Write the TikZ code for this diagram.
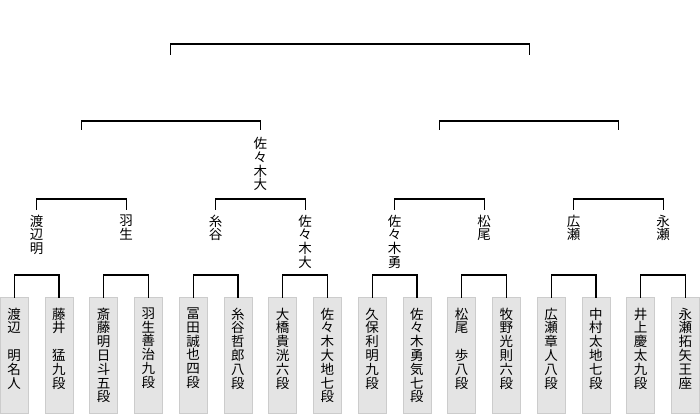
\documentclass[tikz,border=0pt]{standalone}
\usepackage{fontspec}
\newfontfamily\jp{Noto Sans CJK JP}
\begin{document}
\begin{tikzpicture}[x=1pt,y=-1pt,
  conn/.style={line width=1.1pt, line cap=rect},
  leaf/.style={draw=black!20, fill=black!10.5, line width=0.8pt, minimum width=28pt, minimum height=116pt, inner sep=0pt, anchor=north},
  vtext/.style={font=\jp\fontsize{13.5}{13.8}\selectfont, align=center, inner sep=0pt, anchor=north}]
\useasboundingbox (0,0) rectangle (700,415);
\newcommand\leafbox[3]{\node[leaf] (#1) at (#2,297) {};\node[vtext] (#1t) at (#2,307.5) {#3};}
\leafbox{L1}{14.2}{渡\\辺\\\phantom{明}\\明\\名\\人}
\leafbox{L2}{58.95}{藤\\井\\\phantom{明}\\猛\\九\\段}
\leafbox{L3}{103.7}{斎\\藤\\明\\日\\斗\\五\\段}
\leafbox{L4}{148.45}{羽\\生\\善\\治\\九\\段}
\leafbox{L5}{193.2}{冨\\田\\誠\\也\\四\\段}
\leafbox{L6}{237.95}{糸\\谷\\哲\\郎\\八\\段}
\leafbox{L7}{282.7}{大\\橋\\貴\\洸\\六\\段}
\leafbox{L8}{327.45}{佐\\々\\木\\大\\地\\七\\段}
\leafbox{L9}{372.2}{久\\保\\利\\明\\九\\段}
\leafbox{L10}{416.95}{佐\\々\\木\\勇\\気\\七\\段}
\leafbox{L11}{461.7}{松\\尾\\\phantom{明}\\歩\\八\\段}
\leafbox{L12}{506.45}{牧\\野\\光\\則\\六\\段}
\leafbox{L13}{551.2}{広\\瀬\\章\\人\\八\\段}
\leafbox{L14}{595.95}{中\\村\\太\\地\\七\\段}
\leafbox{L15}{640.7}{井\\上\\慶\\太\\九\\段}
\leafbox{L16}{685.45}{永\\瀬\\拓\\矢\\王\\座}
% first-round brackets
\coordinate (p1) at (36.6,275);
\coordinate (p2) at (126.1,275);
\coordinate (p3) at (215.6,275);
\coordinate (p4) at (305.1,275);
\coordinate (p5) at (394.6,275);
\coordinate (p6) at (484.1,275);
\coordinate (p7) at (573.6,275);
\coordinate (p8) at (663.1,275);
\draw[conn] (L1.north) |- (p1) -| (L2.north);
\draw[conn] (L3.north) |- (p2) -| (L4.north);
\draw[conn] (L5.north) |- (p3) -| (L6.north);
\draw[conn] (L7.north) |- (p4) -| (L8.north);
\draw[conn] (L9.north) |- (p5) -| (L10.north);
\draw[conn] (L11.north) |- (p6) -| (L12.north);
\draw[conn] (L13.north) |- (p7) -| (L14.north);
\draw[conn] (L15.north) |- (p8) -| (L16.north);
% second-round winners
\coordinate (q1) at (36.6,209);
\coordinate (q2) at (126.1,209);
\coordinate (q3) at (215.6,209);
\coordinate (q4) at (305.1,209);
\coordinate (q5) at (394.6,209);
\coordinate (q6) at (484.1,209);
\coordinate (q7) at (573.6,209);
\coordinate (q8) at (663.1,209);
\node[vtext] (Q1) at (36.6,214.5) {渡\\辺\\明};
\node[vtext] (Q2) at (126.1,214.5) {羽\\生};
\node[vtext] (Q3) at (215.6,214.5) {糸\\谷};
\node[vtext] (Q4) at (305.1,214.5) {佐\\々\\木\\大};
\node[vtext] (Q5) at (394.6,214.5) {佐\\々\\木\\勇};
\node[vtext] (Q6) at (484.1,214.5) {松\\尾};
\node[vtext] (Q7) at (573.6,214.5) {広\\瀬};
\node[vtext] (Q8) at (663.1,214.5) {永\\瀬};
\coordinate (m1) at (81.35,199);
\coordinate (m2) at (260.35,199);
\coordinate (m3) at (439.35,199);
\coordinate (m4) at (618.85,199);
\draw[conn] (q1) |- (m1) -| (q2);
\draw[conn] (q3) |- (m2) -| (q4);
\draw[conn] (q5) |- (m3) -| (q6);
\draw[conn] (q7) |- (m4) -| (q8);
% semi-final
\coordinate (s1) at (81.35,129);
\coordinate (s2) at (260.35,129);
\coordinate (s3) at (439.35,129);
\coordinate (s4) at (618.85,129);
\node[vtext] (S2) at (260.35,137) {佐\\々\\木\\大};
\coordinate (n1) at (170.85,121);
\coordinate (n2) at (529.1,121);
\draw[conn] (s1) |- (n1) -| (s2);
\draw[conn] (s3) |- (n2) -| (s4);
% final
\coordinate (t1) at (170.85,54);
\coordinate (t2) at (529.1,54);
\coordinate (top) at (350,44);
\draw[conn] (t1) |- (top) -| (t2);
\end{tikzpicture}
\end{document}
